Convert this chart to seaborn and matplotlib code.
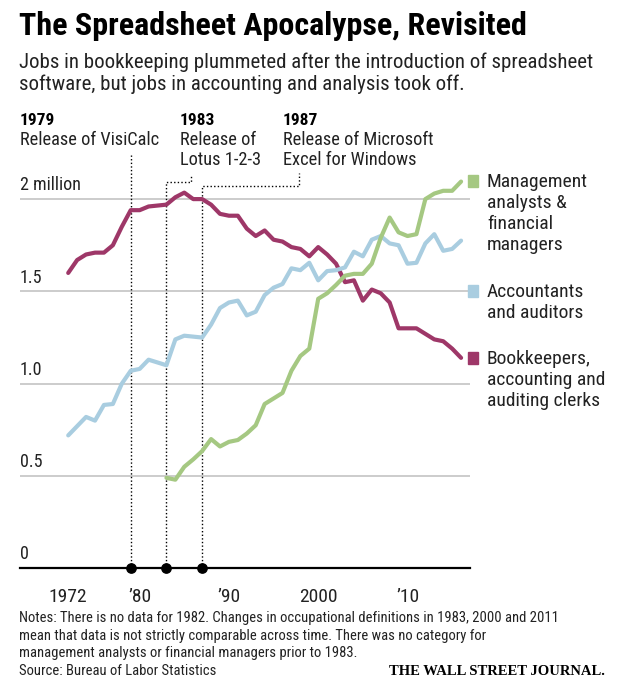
import pandas as pd
import matplotlib.pyplot as plt
import seaborn as sns
from matplotlib.patches import Rectangle

# Jobs in millions, Bureau of Labor Statistics (no data for 1982)
years = list(range(1972, 1982)) + list(range(1983, 2017))
mgmt_years = list(range(1983, 2017))

bookkeepers = [1.60, 1.67, 1.70, 1.71, 1.71, 1.75, 1.85, 1.94, 1.94, 1.96,
               1.97, 2.01, 2.035, 2.00, 2.00, 1.97, 1.92, 1.91, 1.91, 1.84,
               1.80, 1.83, 1.78, 1.77, 1.74, 1.73, 1.69, 1.74, 1.70, 1.65,
               1.55, 1.56, 1.45, 1.51, 1.49, 1.44, 1.30, 1.30, 1.30, 1.27,
               1.24, 1.23, 1.19, 1.14]
accountants = [0.72, 0.77, 0.82, 0.80, 0.885, 0.89, 1.00, 1.07, 1.08, 1.13,
               1.10, 1.24, 1.26, 1.255, 1.25, 1.32, 1.41, 1.44, 1.45, 1.37,
               1.39, 1.48, 1.52, 1.54, 1.625, 1.615, 1.655, 1.56, 1.61, 1.615,
               1.63, 1.715, 1.69, 1.78, 1.80, 1.76, 1.75, 1.65, 1.655, 1.76,
               1.81, 1.72, 1.73, 1.775]
management = [0.49, 0.48, 0.55, 0.59, 0.635, 0.70, 0.66, 0.685, 0.695, 0.73,
              0.775, 0.89, 0.92, 0.95, 1.07, 1.15, 1.19, 1.46, 1.49, 1.535,
              1.585, 1.595, 1.595, 1.65, 1.79, 1.90, 1.82, 1.80, 1.81, 2.00,
              2.03, 2.045, 2.045, 2.095]

series_names = ["Bookkeepers", "Accountants", "Management"]
colors = {"Bookkeepers": "#9e3768", "Accountants": "#a9cde0", "Management": "#a5c882"}

legend_labels = {
    "Management": ["Management", "analysts &", "financial", "managers"],
    "Accountants": ["Accountants", "and auditors"],
    "Bookkeepers": ["Bookkeepers,", "accounting and", "auditing clerks"],
}

event_years = [1979, 1983, 1987]
event_titles = ["Release of VisiCalc", "Release of\nLotus 1-2-3", "Release of Microsoft\nExcel for Windows"]

ytick_vals = [0, 0.5, 1.0, 1.5, 2.0]
ytick_labels = ["0", "0.5", "1.0", "1.5", "2 million"]
xtick_vals = [1972, 1980, 1990, 2000, 2010]
xtick_labels = ["1972", "\u201980", "\u201990", "2000", "\u201910"]

df = pd.concat([
    pd.DataFrame({"year": years, "jobs": bookkeepers, "group": "Bookkeepers"}),
    pd.DataFrame({"year": years, "jobs": accountants, "group": "Accountants"}),
    pd.DataFrame({"year": mgmt_years, "jobs": management, "group": "Management"}),
])

sns.set_style("white")
plt.rcParams['font.family'] = ['Roboto Condensed', 'Roboto', 'DejaVu Sans']

W, H = 628, 680


def fx(x):
    return x / W


def fy(y):
    return 1 - y / H


fig = plt.figure(figsize=(6.28, 6.80), dpi=100)
# axis spans 1966.6..2017 on pixels 20..470, 0..2.25 on pixels 568..153
ax = fig.add_axes([fx(20), fy(568.3), 450 / W, 2.25 * 184.6 / H])

sns.lineplot(data=df, x="year", y="jobs", hue="group", hue_order=series_names,
             palette=colors, linewidth=3, legend=False, errorbar=None, ax=ax, zorder=3)

ax.set_xlim(1966.6, 2017.0)
ax.set_ylim(0, 2.25)
ax.set_xlabel("")
ax.set_ylabel("")

for s in ["top", "right", "left"]:
    ax.spines[s].set_visible(False)
ax.spines["bottom"].set_linewidth(1.6)
ax.spines["bottom"].set_color("black")
ax.spines["bottom"].set_zorder(4)

ax.set_yticks(ytick_vals[1:])
ax.yaxis.grid(True, color="#c4c4c4", linewidth=1.2)
ax.xaxis.grid(False)
ax.set_axisbelow(True)
ax.tick_params(axis="y", length=0, labelleft=False)
for v, lab in zip(ytick_vals, ytick_labels):
    ax.annotate(lab, xy=(0, v), xycoords=("axes fraction", "data"),
                xytext=(0, 3.5), textcoords="offset points",
                ha="left", va="bottom", fontsize=13, color="#222222")

ax.set_xticks(xtick_vals)
ax.set_xticklabels(xtick_labels)
ax.set_xticks(range(1972, 2018), minor=True)
ax.tick_params(axis="x", which="major", length=12, width=1.2, direction="out",
               pad=2, labelsize=14, colors="black", labelcolor="#222222")
ax.tick_params(axis="x", which="minor", length=6, width=1.2, direction="out")
ax.xaxis.get_major_ticks()[0].tick1line.set_markersize(6)

# event markers and dotted leader lines
ax.scatter(event_years, [0] * len(event_years), s=45, color="black",
           zorder=6, clip_on=False)
dot = dict(color="black", linewidth=1, linestyle=(0, (1, 1.6)), zorder=2, clip_on=False)
ax.plot([event_years[0]] * 2, [0, 2.24], **dot)
ax.plot([event_years[1], event_years[1], 1985.7, 1985.7], [0, 2.093, 2.093, 2.13], **dot)
ax.plot([event_years[2], event_years[2], 1997.8, 1997.8], [0, 2.071, 2.071, 2.141], **dot)

# event captions
for x0, yr, txt in zip([20, 180, 283], event_years, event_titles):
    fig.text(fx(x0), fy(125), str(yr), fontsize=12.5, fontweight="bold",
             va="baseline", ha="left", color="black")
    for i, line in enumerate(txt.split("\n")):
        fig.text(fx(x0), fy(145 + 20 * i), line, fontsize=13.2,
                 va="baseline", ha="left", color="#222222")

# legend on the right
legend_pos = {"Management": 175, "Accountants": 285, "Bookkeepers": 352}
for name in ["Management", "Accountants", "Bookkeepers"]:
    top = legend_pos[name]
    fig.patches.append(Rectangle((fx(468), fy(top + 12)), 10 / W, 12 / H,
                                 transform=fig.transFigure, color=colors[name]))
    for i, line in enumerate(legend_labels[name]):
        fig.text(fx(487), fy(top + 12 + 21 * i), line, fontsize=14,
                 va="baseline", ha="left", color="#222222")

# title and subtitle
fig.text(fx(19), fy(35), "The Spreadsheet Apocalypse, Revisited", fontsize=23,
         fontweight="bold", va="baseline", ha="left", color="black")
fig.text(fx(19), fy(68), "Jobs in bookkeeping plummeted after the introduction of spreadsheet",
         fontsize=15, va="baseline", ha="left", color="#222222")
fig.text(fx(19), fy(90), "software, but jobs in accounting and analysis took off.",
         fontsize=15, va="baseline", ha="left", color="#222222")

# notes
notes = ["Notes: There is no data for 1982. Changes in occupational definitions in 1983, 2000 and 2011",
         "mean that data is not strictly comparable across time. There was no category for",
         "management analysts or financial managers prior to 1983.",
         "Source: Bureau of Labor Statistics"]
for i, line in enumerate(notes):
    fig.text(fx(19), fy(622 + 17.7 * i), line, fontsize=10.5,
             va="baseline", ha="left", color="#222222")
fig.text(fx(605), fy(675), "THE WALL STREET JOURNAL.", fontsize=10.5, fontweight="bold",
         family="Liberation Serif", va="baseline", ha="right", color="black")

fig.savefig("out.png", dpi=100)
